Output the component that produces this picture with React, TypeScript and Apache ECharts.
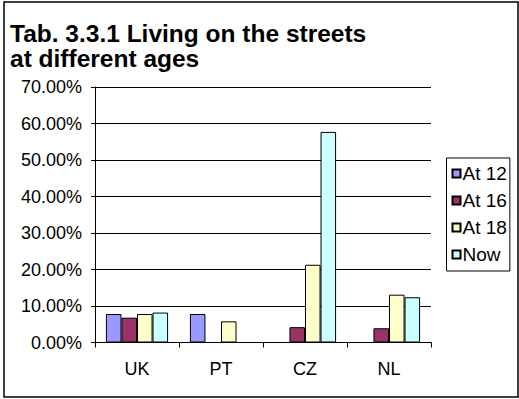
import React, { useEffect, useRef } from "react";
import * as echarts from "echarts";

const categories = ["UK", "PT", "CZ", "NL"];
const seriesNames = ["At 12", "At 16", "At 18", "Now"];
const at12 = [0.078, 0.078, null, null];
const at16 = [0.068, null, 0.042, 0.039];
const at18 = [0.078, 0.058, 0.213, 0.131];
const now = [0.082, null, 0.577, 0.124];
const colors = ["#9999FF", "#993366", "#FFFFCC", "#CCFFFF"];
const titleLines = ["Tab. 3.3.1 Living on the streets", "at different ages"];

export default function App() {
  const ref = useRef<HTMLDivElement>(null);
  useEffect(() => {
    document.body.style.margin = "0";
    const chart = echarts.init(ref.current!, null, { renderer: "svg" });
    const values = [at12, at16, at18, now];
    const font = "Liberation Sans, Arial, sans-serif";
    chart.setOption({
      animation: false,
      backgroundColor: "#ffffff",
      title: {
        text: titleLines.join("\n"),
        left: 10,
        top: 21,
        padding: 0,
        textStyle: {
          fontFamily: font,
          fontSize: 24.5,
          fontWeight: "bold",
          color: "#000",
          lineHeight: 25,
        },
      },
      legend: {
        orient: "vertical",
        left: 446.5,
        top: 158,
        data: seriesNames,
        itemWidth: 8,
        itemHeight: 8,
        itemGap: 8,
        padding: [6, 3, 7, 5],
        borderColor: "#000",
        borderWidth: 1,
        icon: "rect",
        textStyle: { fontFamily: font, fontSize: 19, color: "#000", padding: [0, 0, 0, -3] },
      },
      grid: { left: 95, right: 88, top: 87, bottom: 56.5, containLabel: false },
      xAxis: {
        type: "category",
        data: categories,
        axisLine: { lineStyle: { color: "#000", width: 1 } },
        axisTick: { show: true, length: 5, alignWithLabel: false, lineStyle: { color: "#000" } },
        axisLabel: { margin: 17, fontFamily: font, fontSize: 18, color: "#000" },
      },
      yAxis: {
        type: "value",
        min: 0,
        max: 0.7,
        interval: 0.1,
        axisLine: { show: true, lineStyle: { color: "#000", width: 1 } },
        axisTick: { show: true, length: 4, lineStyle: { color: "#000" } },
        splitLine: { show: true, lineStyle: { color: "#000", width: 1 } },
        axisLabel: {
          margin: 13,
          fontFamily: font,
          fontSize: 18,
          color: "#000",
          formatter: (v: number) => (v * 100).toFixed(2) + "%",
        },
      },
      series: seriesNames.map((name, i) => ({
        name,
        type: "bar",
        data: values[i],
        barGap: "0%",
        barCategoryGap: "26%",
        itemStyle: { color: colors[i], borderColor: "#000", borderWidth: 1 },
      })),
      graphic: [
        {
          type: "rect",
          shape: { x: 4, y: 2, width: 514, height: 395 },
          style: { fill: "none", stroke: "#000", lineWidth: 1.5 },
          z: 100,
        },
      ],
    });
    return () => chart.dispose();
  }, []);
  return <div ref={ref} style={{ width: 519, height: 399 }} />;
}
